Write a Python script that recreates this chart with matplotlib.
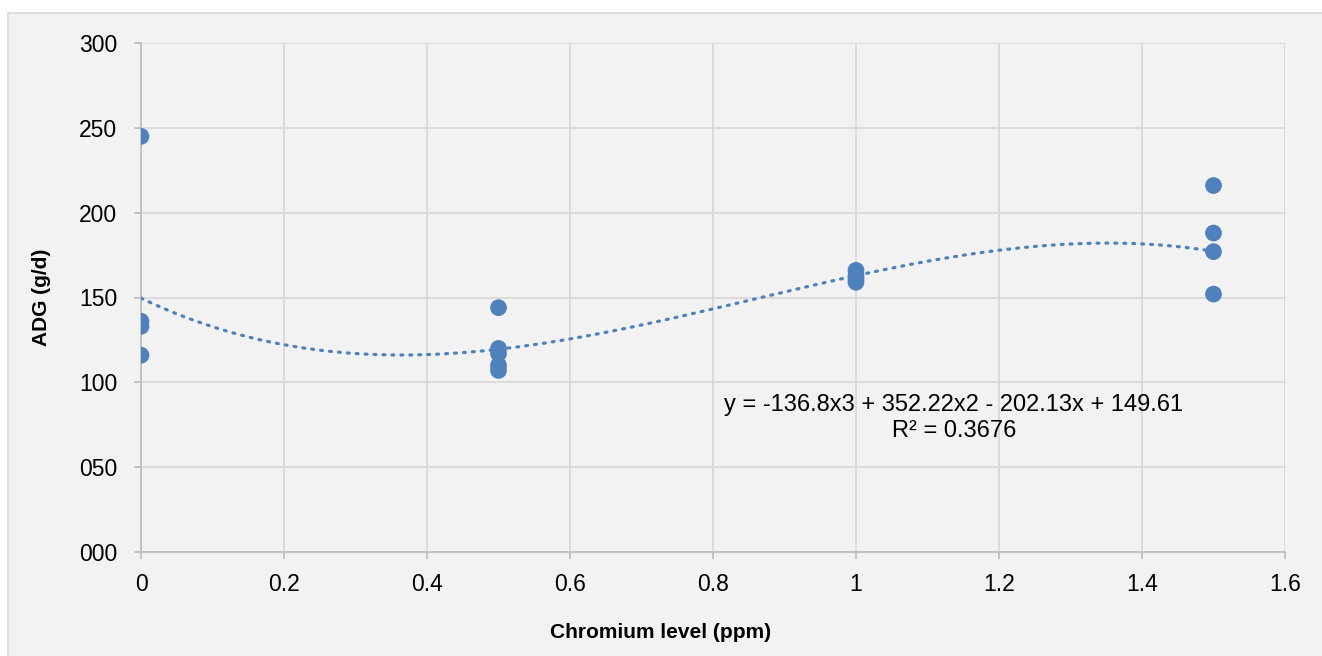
import numpy as np
import matplotlib.pyplot as plt
from matplotlib.patches import Rectangle
from matplotlib.ticker import FuncFormatter

plt.rcParams['font.family'] = ['Liberation Sans', 'DejaVu Sans']

# data
chromium = [0, 0, 0, 0,
            0.5, 0.5, 0.5, 0.5, 0.5,
            1, 1, 1, 1,
            1.5, 1.5, 1.5, 1.5]
adg = [245, 136, 133, 116,
       144, 120, 117, 110, 107,
       166, 163, 161, 159,
       216, 188, 177, 152]

# cubic trend line as reported on the chart
trend_coef = [-136.8, 352.22, -202.13, 149.61]
eq_text = 'y = -136.8x3 + 352.22x2 - 202.13x + 149.61\nR² = 0.3676'

color = '#4F81BD'

fig = plt.figure(figsize=(13.22, 6.56), dpi=100)
fig.patch.set_facecolor('white')
# chart area background
fig.patches.append(Rectangle((8 / 1322, -0.01), 1.02, (656 - 13) / 656 + 0.01,
                             transform=fig.transFigure, facecolor='#f2f2f2',
                             edgecolor='#d9d9d9', linewidth=1.2, zorder=-10))

ax = fig.add_axes([141 / 1322, (656 - 552) / 656, (1285 - 141) / 1322, (552 - 43) / 656])
ax.set_facecolor('#f2f2f2')

xs = np.linspace(0, 1.5, 200)
ax.plot(xs, np.polyval(trend_coef, xs), color=color, linewidth=2.3,
        linestyle=(0, (0.6, 2.2)), dash_capstyle='round', zorder=3)
ax.scatter(chromium, adg, s=145, color=color, edgecolors='none', zorder=4)

ax.set_xlim(0, 1.6)
ax.set_ylim(0, 300)
ax.set_xticks(np.arange(0, 1.61, 0.2))
ax.set_yticks(np.arange(0, 301, 50))
ax.xaxis.set_major_formatter(FuncFormatter(lambda v, p: f'{round(v, 1):g}'))
ax.yaxis.set_major_formatter(FuncFormatter(lambda v, p: f'{int(v):03d}'))
ax.grid(True, color='#d9d9d9', linewidth=1.3)
ax.set_axisbelow(True)
for s in ['top', 'right']:
    ax.spines[s].set_visible(False)
for s in ['left', 'bottom']:
    ax.spines[s].set_color('#bfbfbf')
    ax.spines[s].set_linewidth(1.3)
ax.tick_params(axis='both', colors='#bfbfbf', labelcolor='black', labelsize=16.5,
               length=5, width=1.3, direction='out')
ax.tick_params(axis='y', pad=12)
ax.tick_params(axis='x', pad=10)

ax.set_xlabel('Chromium level (ppm)', fontsize=15, fontweight='bold', labelpad=22)
ax.xaxis.set_label_coords(0.4545, -0.14)
ax.set_ylabel('ADG (g/d)', fontsize=15, fontweight='bold', labelpad=20)

ax.text(1.137, 93, eq_text, fontsize=17, ha='center', va='top',
        linespacing=1.2)

fig.savefig('out.png', dpi=100)
